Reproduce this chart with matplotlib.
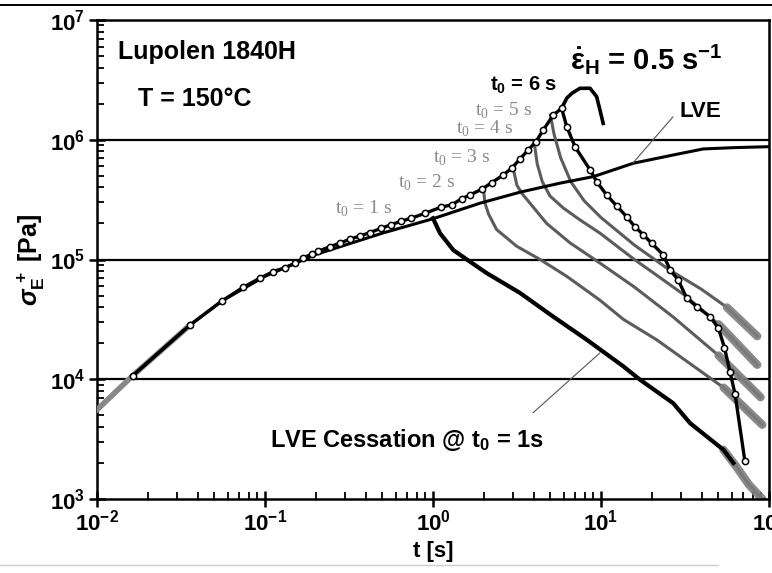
import numpy as np
import matplotlib
matplotlib.use('Agg')
import matplotlib.pyplot as plt
from matplotlib.lines import Line2D
from matplotlib.ticker import LogLocator, NullFormatter

plt.rcParams['font.family'] = ['Liberation Sans', 'DejaVu Sans']
plt.rcParams['font.weight'] = 'bold'
plt.rcParams['mathtext.fontset'] = 'custom'
plt.rcParams['mathtext.rm'] = 'Liberation Sans:bold'
plt.rcParams['mathtext.it'] = 'Liberation Sans:italic:bold'
plt.rcParams['mathtext.bf'] = 'Liberation Sans:bold'
plt.rcParams['mathtext.sf'] = 'Liberation Sans:bold'

# start-up at 0.5 1/s (black line + open circles), peak then cessation at t0 = 6 s
circ_t = [0.0163, 0.0358, 0.0555, 0.0743, 0.0933, 0.112, 0.132, 0.151, 0.169, 0.190,
          0.207, 0.244, 0.279, 0.321, 0.367, 0.422, 0.49, 0.562, 0.646, 0.741,
          0.895, 1.12, 1.29, 1.48, 1.66, 1.95, 2.23, 2.62, 2.94, 3.30,
          3.69, 4.10, 4.54, 5.20, 5.83,
          6.25, 7.00, 8.61, 9.42, 10.8, 12.4, 14.2, 15.9, 17.9, 20.0,
          23.5, 25.8, 28.8, 32.4, 37.1, 44.6, 50.0, 54.3, 58.6, 62.8, 71.9]
circ_s = [1.07e4, 2.84e4, 4.51e4, 5.87e4, 6.98e4, 7.93e4, 8.55e4, 9.31e4, 1.03e5, 1.11e5,
          1.17e5, 1.28e5, 1.37e5, 1.48e5, 1.57e5, 1.68e5, 1.82e5, 1.95e5, 2.09e5, 2.21e5,
          2.43e5, 2.74e5, 2.86e5, 3.21e5, 3.46e5, 3.86e5, 4.37e5, 5.08e5, 5.78e5, 6.92e5,
          8.22e5, 9.64e5, 1.21e6, 1.61e6, 1.83e6,
          1.29e6, 8.75e5, 5.60e5, 4.47e5, 3.46e5, 2.80e5, 2.28e5, 1.88e5, 1.60e5, 1.37e5,
          1.09e5, 8.18e4, 6.76e4, 4.75e4, 4.05e4, 3.33e4, 2.67e4, 1.84e4, 1.15e4, 7.52e3, 2.06e3]

# start-up continued past t0 = 6 s (overshoot)
over_t = [5.83, 6.25, 6.70, 7.50, 8.61, 9.42, 9.86, 10.3]
over_s = [1.83e6, 2.22e6, 2.44e6, 2.69e6, 2.69e6, 2.29e6, 1.77e6, 1.37e6]

# early start-up data (grey)
early_t = [0.01, 0.0163, 0.0358]
early_s = [5.56e3, 1.07e4, 2.84e4]

# linear viscoelastic envelope
lve_t = [0.0163, 0.0358, 0.0555, 0.1, 0.2, 0.3, 0.5, 1.0, 1.9, 3.3, 5.7, 9.0, 15.6, 26.9, 40.6, 63, 99]
lve_s = [1.07e4, 2.84e4, 4.51e4, 7.24e4, 1.10e5, 1.32e5, 1.66e5, 2.19e5, 2.95e5, 3.65e5,
         4.34e5, 4.92e5, 6.37e5, 7.46e5, 8.38e5, 8.6e5, 8.75e5]

# cessation curves (grey), t0 = 1..5 s
c1_t = [1.0, 1.10, 1.32, 1.59, 2.09, 3.30, 5.20, 8.22, 13.6, 17.1, 26.9, 33.9, 53.5, 63.1, 75.9, 91.2]
c1_s = [2.21e5, 1.66e5, 1.20e5, 1.0e5, 7.69e4, 5.25e4, 3.33e4, 2.14e4, 1.28e4, 9.89e3,
        6.31e3, 4.30e3, 2.58e3, 1.91e3, 1.32e3, 1.0e3]
c2_t = [2.0, 2.04, 2.14, 2.39, 3.15, 4.34, 6.25, 9.86, 13.6, 21.4, 33.9, 53.7, 91.2]
c2_s = [3.80e5, 2.95e5, 2.40e5, 1.78e5, 1.29e5, 1.0e5, 7.24e4, 4.57e4, 3.16e4, 2.14e4,
        1.35e4, 8.51e3, 4.17e3]
c3_t = [3.0, 3.16, 3.39, 3.78, 4.75, 6.53, 9.86, 15.8, 26.9, 50.1, 89.1]
c3_s = [5.75e5, 4.17e5, 3.55e5, 2.95e5, 2.0e5, 1.38e5, 9.33e4, 5.89e4, 3.31e4, 1.58e4, 7.08e3]
c4_t = [4.0, 4.17, 4.47, 4.97, 5.97, 7.50, 9.86, 15.8, 21.4, 31.6, 50.1, 85.1]
c4_s = [9.55e5, 6.31e5, 4.47e5, 3.39e5, 2.69e5, 2.14e5, 1.66e5, 1.0e5, 7.41e4, 5.01e4,
        2.88e4, 1.32e4]
c5_t = [5.0, 5.25, 5.75, 6.61, 7.94, 10.0, 15.8, 25.1, 39.8, 56.2, 85.1]
c5_s = [1.61e6, 1.12e6, 7.08e5, 4.47e5, 3.09e5, 2.24e5, 1.32e5, 8.32e4, 5.62e4, 3.98e4, 2.29e4]

# LVE prediction for cessation at t0 = 1 s (black)
lvec_t = [1.0, 1.10, 1.32, 1.59, 2.09, 3.30, 5.20, 8.22, 13.6, 17.1, 26.9, 33.9, 53.5, 61.4]
lvec_s = [2.21e5, 1.66e5, 1.20e5, 1.0e5, 7.69e4, 5.25e4, 3.33e4, 2.14e4, 1.28e4, 9.89e3,
          6.31e3, 4.30e3, 2.58e3, 2.0e3]

labels_t0 = ['1', '2', '3', '4', '5']

fig = plt.figure(figsize=(7.72, 5.73), dpi=100)
ax = fig.add_axes([97/772, 74/573, 672/772, 479/573])
ax.set_xscale('log')
ax.set_yscale('log')
ax.set_xlim(1e-2, 1e2)
ax.set_ylim(1e3, 1e7)

for yy in [1e4, 1e5, 1e6]:
    ax.axhline(yy, color='black', lw=1.6, zorder=1)

grey = '#5c5c5c'
for ct, cs in [(c1_t, c1_s), (c2_t, c2_s), (c3_t, c3_s), (c4_t, c4_s), (c5_t, c5_s)]:
    ct = np.array(ct)
    cs = np.array(cs)
    ax.plot(ct, cs, color=grey, lw=2.2, zorder=2)
    # noisy tail drawn as a broader band
    m = ct >= 45
    ax.plot(ct[m], cs[m], color='#7d7d7d', lw=6, alpha=0.9, zorder=2,
            solid_capstyle='round')

ax.plot(early_t, early_s, color='#888888', lw=4, zorder=3)
ax.plot(lve_t, lve_s, color='black', lw=2.2, zorder=4)
ax.plot(lvec_t, lvec_s, color='black', lw=3.0, zorder=4)
ax.plot(over_t, over_s, color='black', lw=2.6, zorder=5)
ax.plot(circ_t, circ_s, color='black', lw=2.4, zorder=5)
ax.plot(circ_t, circ_s, ls='none', marker='o', ms=4.5, mfc='white', mec='black',
        mew=1.1, zorder=6)

# ticks
ax.xaxis.set_major_locator(LogLocator(base=10, numticks=10))
ax.xaxis.set_minor_locator(LogLocator(base=10, subs=np.arange(2, 10), numticks=20))
ax.yaxis.set_major_locator(LogLocator(base=10, numticks=10))
ax.yaxis.set_minor_locator(LogLocator(base=10, subs=np.arange(2, 10), numticks=20))
ax.xaxis.set_minor_formatter(NullFormatter())
ax.yaxis.set_minor_formatter(NullFormatter())
ax.tick_params(which='major', direction='inout', length=11, width=1.8, labelsize=16,
               pad=3)
ax.tick_params(which='minor', direction='in', length=5, width=1.3)
ax.tick_params(axis='x', which='major', pad=2)
for sp in ax.spines.values():
    sp.set_linewidth(1.8)

ax.set_xlabel('t [s]', fontsize=16, fontweight='bold')
ax.set_ylabel(r'$\sigma_\mathrm{E}^{\,+}$ [Pa]', fontsize=18, fontweight='bold')
ax.xaxis.set_label_coords(0.5, -0.088)
ax.yaxis.set_label_coords(-0.074, 0.5)

# annotations
ax.text(0.0133, 5.4e6, 'Lupolen 1840H', fontsize=18, fontweight='bold', ha='left', va='center')
ax.text(0.0175, 2.19e6, 'T = 150°C', fontsize=18, fontweight='bold', ha='left', va='center')
ax.text(6.5, 3.85e6, r'$\dot{\mathrm{\varepsilon}}_\mathrm{H}$ = 0.5 s$^{-1}$',
        fontsize=21, fontweight='bold', ha='left', va='baseline')
ax.text(2.18, 2.86e6, 't$_0$ = 6 s', fontsize=14.5, fontweight='bold', ha='left', va='center')

lab_pos = [(0.261, 2.69e5), (0.62, 4.45e5), (1.0, 7.18e5), (1.37, 1.25e6), (1.78, 1.77e6)]
for lab, (xt, yt) in zip(labels_t0, lab_pos):
    ax.text(xt, yt, r't$_{\mathregular{0}}$ = ' + lab + ' s', fontsize=14,
            family='Liberation Serif', fontweight='normal', color='#8a8a8a',
            ha='left', va='center')

ax.text(29.5, 1.71e6, 'LVE', fontsize=16, fontweight='bold', ha='left', va='center')
ax.plot([26.8, 15.5], [1.55e6, 6.4e5], color='#555555', lw=0.8, zorder=7)
ax.text(0.107, 3.12e3, r'LVE Cessation @ t$_0$ = 1s', fontsize=17, fontweight='bold',
        ha='left', va='center')
ax.plot([3.94, 9.86], [5.25e3, 1.66e4], color='#555555', lw=0.8, zorder=7)

# scan border lines
fig.add_artist(Line2D([0, 1], [1 - 5/573, 1 - 5/573], color='black', lw=1.4))
fig.add_artist(Line2D([0, 0.93], [8/573, 8/573], color='#cccccc', lw=1.0))

fig.savefig('out.png', dpi=100)
